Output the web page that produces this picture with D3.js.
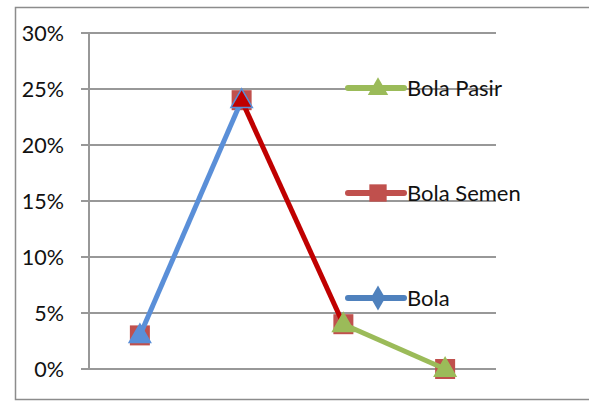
<!DOCTYPE html>
<html>
<head>
<meta charset="utf-8">
<script src="https://cdn.jsdelivr.net/npm/d3@7"></script>
<style>
  body { margin: 0; background: #fff; }
  text { font-family: Lato, "Open Sans", sans-serif; }
</style>
</head>
<body>
<div id="chart"></div>
<script>
// data
var categories = ["1", "2", "3", "4"];
var ticks = [0, 0.05, 0.10, 0.15, 0.20, 0.25, 0.30];
var bolaSemen = [0.03, 0.24, 0.04, 0.00];
var bola = [0.03, 0.24, null, null];
var bolaPasir = [null, null, 0.04, 0.00];
var legendNames = ["Bola Pasir", "Bola Semen", "Bola"];

var svgWidth = 589, svgHeight = 401;
var margin = { top: 33, right: 93, bottom: 32, left: 89 },
    width = svgWidth - margin.left - margin.right,
    height = svgHeight - margin.top - margin.bottom;

var svg = d3.select("#chart").append("svg")
    .attr("width", svgWidth)
    .attr("height", svgHeight);

// outer frame
svg.append("rect")
    .attr("x", 15.5).attr("y", 7.5)
    .attr("width", 590).attr("height", 392)
    .attr("fill", "none").attr("stroke", "#8c8c8c").attr("stroke-width", 1.5);

var g = svg.append("g").attr("transform", `translate(${margin.left},${margin.top})`);

var x = d3.scalePoint().domain(categories).range([0, width]).padding(0.5);
var y = d3.scaleLinear().domain([0, 0.30]).range([height, 0]);

// gridlines
g.append("g").selectAll("line").data(ticks).enter().append("line")
    .attr("x1", -8).attr("x2", width)
    .attr("y1", d => y(d)).attr("y2", d => y(d))
    .attr("stroke", "#989898").attr("stroke-width", 2);

// y axis line
g.append("line").attr("x1", 0).attr("x2", 0).attr("y1", 0).attr("y2", height)
    .attr("stroke", "#989898").attr("stroke-width", 2);

// tick labels
g.append("g").selectAll("text").data(ticks).enter().append("text")
    .attr("x", -25).attr("y", d => y(d))
    .attr("dy", "0.36em")
    .attr("text-anchor", "end")
    .attr("font-size", 21.5)
    .attr("fill", "#111")
    .text(d => d3.format(".0%")(d));

var line = d3.line()
    .defined(d => d != null)
    .x((d, i) => x(categories[i]))
    .y(d => y(d));

var red = "#c00000", blue = "#5a8fd8", green = "#9bbb59";

// Bola Semen squares
g.append("g").selectAll("rect").data(bolaSemen).enter().append("rect")
    .attr("x", (d, i) => x(categories[i]) - 10)
    .attr("y", d => y(d) - 10)
    .attr("width", 20).attr("height", 20)
    .attr("fill", "#c0504d");

// lines
g.append("path").datum(bolaSemen.map((d, i) => (i == 1 || i == 2) ? d : null))
    .attr("d", line).attr("fill", "none").attr("stroke", red).attr("stroke-width", 5);
g.append("path").datum(bola)
    .attr("d", line).attr("fill", "none").attr("stroke", blue).attr("stroke-width", 5);
g.append("path").datum(bolaPasir)
    .attr("d", line).attr("fill", "none").attr("stroke", green).attr("stroke-width", 5);

// triangle markers
var tri = d3.symbol().type(d3.symbolTriangle).size(200);
var triFill = [blue, red, green, green];
var triStroke = [blue, blue, green, green];
g.append("g").selectAll("path").data(bolaSemen).enter().append("path")
    .attr("d", tri)
    .attr("transform", (d, i) => `translate(${x(categories[i])},${y(d) + 1})`)
    .attr("fill", (d, i) => triFill[i])
    .attr("stroke", (d, i) => triStroke[i])
    .attr("stroke-width", 1.5);

// legend
var legendY = [88, 193, 298];
var legendColor = [green, "#c0504d", "#4f81bd"];
var leg = svg.append("g").selectAll("g").data(legendNames).enter().append("g")
    .attr("transform", (d, i) => `translate(346,${legendY[i]})`);
leg.append("line").attr("x1", 2).attr("x2", 58).attr("y1", 0).attr("y2", 0)
    .attr("stroke", (d, i) => legendColor[i]).attr("stroke-width", 6)
    .attr("stroke-linecap", "round");
leg.append("path")
    .attr("d", (d, i) => d3.symbol().type([d3.symbolTriangle, d3.symbolSquare, d3.symbolDiamond][i]).size(i == 1 ? 300 : 180)())
    .attr("transform", (d, i) => `translate(32,${i == 0 ? 1 : 0})`)
    .attr("fill", (d, i) => legendColor[i]);
leg.append("text")
    .attr("x", 61).attr("y", 0).attr("dy", "0.35em")
    .attr("font-size", 22).attr("fill", "#111")
    .text(d => d);
</script>
</body>
</html>
